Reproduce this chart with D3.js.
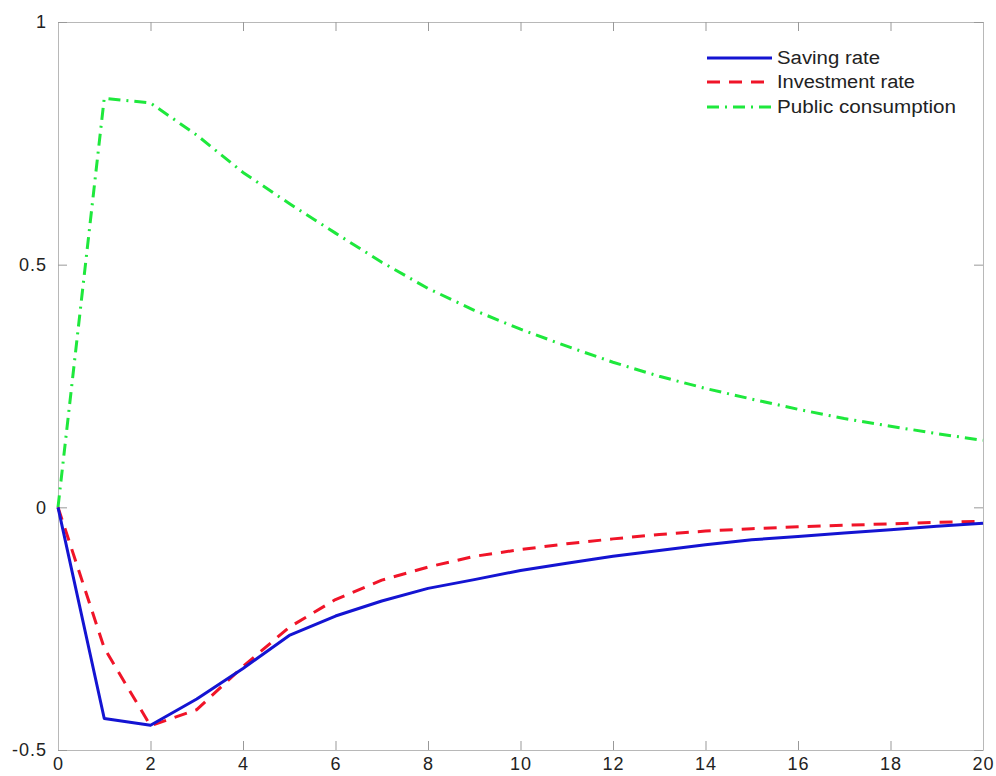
<!DOCTYPE html>
<html>
<head>
<meta charset="utf-8">
<script src="https://cdn.jsdelivr.net/npm/d3@7"></script>
<style>
  html, body { margin: 0; padding: 0; background: #fff; }
  svg { display: block; font-family: "Liberation Sans", Arial, sans-serif; }
</style>
</head>
<body>
<svg id="chart" width="996" height="776"></svg>
<script>
const periods = d3.range(0, 21);
const savingRate = [0, -0.435, -0.449, -0.395, -0.332, -0.264, -0.224, -0.193, -0.167, -0.149, -0.130, -0.115, -0.101, -0.089, -0.077, -0.067, -0.060, -0.053, -0.046, -0.039, -0.033];
const investmentRate = [0, -0.29, -0.45, -0.417, -0.328, -0.247, -0.190, -0.150, -0.123, -0.101, -0.087, -0.075, -0.065, -0.056, -0.049, -0.044, -0.040, -0.037, -0.034, -0.031, -0.029];
const publicConsumption = [0, 0.843, 0.833, 0.767, 0.69, 0.626, 0.565, 0.505, 0.451, 0.406, 0.367, 0.332, 0.299, 0.27, 0.245, 0.223, 0.202, 0.183, 0.167, 0.152, 0.138];
const xTicks = [0, 2, 4, 6, 8, 10, 12, 14, 16, 18, 20];
const yTicks = [-0.5, 0, 0.5, 1];
const yTickLabels = ["-0.5", "0", "0.5", "1"];
const seriesNames = ["Saving rate", "Investment rate", "Public consumption"];

const series = [
  { name: seriesNames[0], values: savingRate, color: "#1414d2", dash: null, width: 3 },
  { name: seriesNames[1], values: investmentRate, color: "#f01428", dash: "13,9", width: 3 },
  { name: seriesNames[2], values: publicConsumption, color: "#1ee83c", dash: "12,6,2,6", width: 3 }
];

const L = 58, R = 983, T = 22, B = 750;
const x = d3.scaleLinear().domain([0, 20]).range([L, R]);
const y = d3.scaleLinear().domain([-0.5, 1]).range([B, T]);

const svg = d3.select("#chart");
const axisColor = "#b8b8b8";
const tickLen = 9;

function styleAxis(g) {
  g.select(".domain").attr("stroke", axisColor).attr("stroke-width", 1);
  g.selectAll(".tick line").attr("stroke", "#999").attr("stroke-width", 1);
  g.selectAll(".tick text").attr("fill", "#222").attr("font-size", 18).attr("letter-spacing", 1);
}

// bottom axis
const gx = svg.append("g").attr("transform", `translate(0,${B})`)
  .call(d3.axisBottom(x).tickValues(xTicks).tickSizeInner(-tickLen).tickSizeOuter(0).tickFormat(d3.format("d")))
  .call(styleAxis);
gx.selectAll(".tick text").attr("y", 20).attr("dy", null).attr("dominant-baseline", "alphabetic");
// top axis
svg.append("g").attr("transform", `translate(0,${T})`)
  .call(d3.axisTop(x).tickValues(xTicks).tickSizeInner(-tickLen).tickSizeOuter(0).tickFormat(""))
  .call(styleAxis);
// left axis
const gy = svg.append("g").attr("transform", `translate(${L},0)`)
  .call(d3.axisLeft(y).tickValues(yTicks).tickSizeInner(-tickLen).tickSizeOuter(0).tickFormat((d, i) => yTickLabels[i]))
  .call(styleAxis);
gy.selectAll(".tick text").attr("x", -11);
// right axis
svg.append("g").attr("transform", `translate(${R},0)`)
  .call(d3.axisRight(y).tickValues(yTicks).tickSizeInner(-tickLen).tickSizeOuter(0).tickFormat(""))
  .call(styleAxis);

const line = d3.line().x((d, i) => x(periods[i])).y(d => y(d));

[series[2], series[1], series[0]].forEach(s => {
  svg.append("path")
    .datum(s.values)
    .attr("d", line)
    .attr("fill", "none")
    .attr("stroke", s.color)
    .attr("stroke-width", s.width)
    .attr("stroke-dasharray", s.dash)
    .attr("stroke-linejoin", "round");
});

// legend
const legend = svg.append("g");
const legY = [58, 82, 107];
const legW = [103, 138, 179];
series.forEach((s, i) => {
  legend.append("line")
    .attr("x1", 707).attr("x2", 772)
    .attr("y1", legY[i]).attr("y2", legY[i])
    .attr("stroke", s.color).attr("stroke-width", s.width)
    .attr("stroke-dasharray", s.dash);
  legend.append("text")
    .attr("x", 777).attr("y", legY[i])
    .attr("dy", "0.35em")
    .attr("font-size", 18)
    .attr("fill", "#222")
    .attr("textLength", legW[i])
    .attr("lengthAdjust", "spacingAndGlyphs")
    .text(s.name);
});
</script>
</body>
</html>
